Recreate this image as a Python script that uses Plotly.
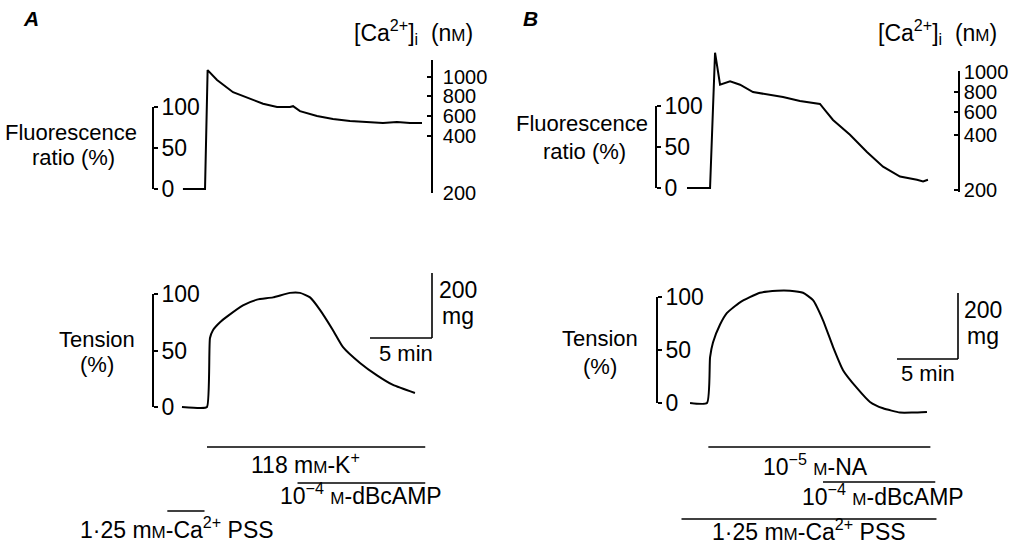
import plotly.graph_objects as go

W, H = 1022, 549
FONT = "Liberation Sans, Arial, sans-serif"

# ---------------- data ----------------
# Panel A (118 mM-K+): time (min), fluorescence ratio (%) and tension (%)
a_fluo_t = [-1.94, -0.16, 0.05, 0.81, 2.10, 3.31, 4.52, 5.65, 6.69, 6.94, 7.50, 8.87, 10.16, 11.53, 12.90, 14.19, 15.32, 16.37, 17.34]
a_fluo = [0, 0, 145, 133, 118, 111, 104, 100, 100, 101, 95, 89, 85.5, 83, 81.7, 80.5, 81.7, 80.5, 80.5]
a_ten_t = [-2.02, -0.56, 0.0, 0.24, 0.48, 1.05, 1.61, 2.90, 4.03, 5.32, 6.69, 7.50, 8.31, 9.11, 10.16, 10.97, 12.34, 13.71, 15.00, 16.77]
a_ten = [0, -0.9, 0, 61, 68, 75, 80, 90, 95, 97, 101, 101, 97, 86, 68, 53, 39, 28, 19.5, 12.4]

# Panel B (10^-5 M-NA)
b_fluo_t = [-2.05, -0.16, 0.25, 0.66, 1.48, 2.30, 3.36, 4.51, 5.82, 7.21, 8.28, 8.85, 9.26, 9.92, 11.31, 12.70, 14.02, 15.41, 16.80, 17.30, 17.70]
b_fluo = [0, 0, 165, 126, 130, 126, 117, 114, 111, 106, 104, 102.5, 95, 83, 65, 44, 26, 14, 10, 8, 10]
b_ten_t = [-1.80, -0.41, -0.16, 0.08, 0.66, 1.23, 2.30, 3.93, 5.33, 6.39, 7.46, 8.28, 9.10, 9.92, 10.74, 11.89, 12.95, 14.02, 15.41, 16.48, 17.62]
b_ten = [0, 0, 43, 57, 74, 85, 95, 104, 106, 106, 104, 97, 78, 53, 31, 14, 1, -5, -9, -9, -8.5]

# [Ca2+]i calibration: fluorescence-ratio (%) positions of the nM tick labels
ca_labels = ["200", "400", "600", "800", "1000"]
a_ca_ratio = [-4.5, 64.6, 89, 113.4, 137]
b_ca_ratio = [-2.4, 64.6, 92.7, 117, 141.5]

# Drug application periods (min)
a_periods = {"k": (0.0, 17.6), "dbc": (7.3, 17.6), "pss": (-3.2, -0.2)}
b_periods = {"na": (-0.3, 17.9), "dbc": (9.1, 18.3), "pss": (-2.5, 18.4)}

# Scale bars
scale_min = 5
scale_mg = 200
a_full_mg = 348   # mg corresponding to 100 % tension, panel A
b_full_mg = 321   # panel B

pct_ticks = [0, 50, 100]

# ---------------- helpers ----------------
def py(p):
    return 1 - p / H

def px(p):
    return p / W

def ydom(top, bot):
    return [py(bot), py(top)]

def vrange(top, bot, zero_px, hund_px):
    s = (zero_px - hund_px) / 100.0
    return [(zero_px - bot) / s, (zero_px - top) / s]

def val(p, zero_px, hund_px):
    s = (zero_px - hund_px) / 100.0
    return (zero_px - p) / s

# time calibration (pixel of t = 0, pixels per minute)
A_T0, A_PPM = 207, 12.4
B_T0, B_PPM = 712, 12.2

def tval_a(p):
    return (p - A_T0) / A_PPM

def tval_b(p):
    return (p - B_T0) / B_PPM

# vertical calibrations (pixel of 0 %, pixel of 100 %)
AF = (189, 107)
AT = (407, 294)
BF = (188, 106)
BT = (403, 297)

BLACK = "#000000"
tickfont = dict(family=FONT, size=23, color=BLACK)
cafont = dict(family=FONT, size=20, color=BLACK)

def hidden(**kw):
    d = dict(visible=False, showgrid=False, zeroline=False, fixedrange=True, automargin=False)
    d.update(kw)
    return d

def bracket(top, bot, xpos, **kw):
    d = dict(domain=ydom(top, bot), range=[0, 100], anchor="free", position=px(xpos),
             side="right", showline=True, linecolor=BLACK, linewidth=1.6,
             ticks="outside", ticklen=4, tickwidth=1.6, tickcolor=BLACK,
             tickmode="array", tickvals=pct_ticks, ticktext=[str(v) for v in pct_ticks],
             showgrid=False, zeroline=False, tickfont=tickfont, ticklabelstandoff=-1,
             automargin=False)
    d.update(kw)
    return d

def ca_axis(top, bot, xpos, cal, ratios, standoff):
    return dict(domain=ydom(top, bot), range=vrange(top, bot, *cal), anchor="free",
                position=px(xpos), side="right", showline=True, linecolor=BLACK,
                linewidth=1.6, ticks="inside", ticklen=4, tickwidth=1.6, tickcolor=BLACK,
                tickmode="array", tickvals=ratios, ticktext=ca_labels, showgrid=False,
                zeroline=False, tickfont=cafont, ticklabelstandoff=standoff, automargin=False)

fig = go.Figure()

line = dict(color=BLACK, width=2)
fig.add_trace(go.Scatter(x=a_fluo_t, y=a_fluo, xaxis="x", yaxis="y", mode="lines", line=line))
fig.add_trace(go.Scatter(x=a_ten_t, y=a_ten, xaxis="x", yaxis="y4", mode="lines",
                         line=dict(color=BLACK, width=2, shape="spline", smoothing=0.5)))
fig.add_trace(go.Scatter(x=b_fluo_t, y=b_fluo, xaxis="x2", yaxis="y6", mode="lines", line=line))
fig.add_trace(go.Scatter(x=b_ten_t, y=b_ten, xaxis="x2", yaxis="y9", mode="lines",
                         line=dict(color=BLACK, width=2, shape="spline", smoothing=0.5)))
# empty traces so that the bracket / calibration axes are drawn
for xa, ya in [("x", "y2"), ("x", "y3"), ("x", "y5"), ("x2", "y7"), ("x2", "y8"), ("x2", "y10")]:
    fig.add_trace(go.Scatter(x=[None], y=[None], xaxis=xa, yaxis=ya, mode="lines",
                             hoverinfo="skip", showlegend=False))

layout = dict(
    width=W, height=H, autosize=False,
    margin=dict(l=0, r=0, t=0, b=0, pad=0, autoexpand=False),
    paper_bgcolor="white", plot_bgcolor="rgba(0,0,0,0)",
    showlegend=False,
    font=dict(family=FONT, color=BLACK),
    xaxis=hidden(domain=[0, 0.5], range=[tval_a(0), tval_a(W / 2)], anchor="y"),
    xaxis2=hidden(domain=[0.5, 1], range=[tval_b(W / 2), tval_b(W)], anchor="y6"),
    yaxis=hidden(domain=ydom(40, 215), range=vrange(40, 215, *AF), anchor="x"),
    yaxis2=bracket(AF[1], AF[0], 153),
    yaxis3=ca_axis(60, 193, 432, AF, a_ca_ratio, 6),
    yaxis4=hidden(domain=ydom(255, 425), range=vrange(255, 425, *AT), anchor="x"),
    yaxis5=bracket(AT[1], AT[0], 153),
    yaxis6=hidden(domain=ydom(40, 215), range=vrange(40, 215, *BF), anchor="x2"),
    yaxis7=bracket(BF[1], BF[0], 656),
    yaxis8=ca_axis(71, 192, 959, BF, b_ca_ratio, 0),
    yaxis9=hidden(domain=ydom(255, 425), range=vrange(255, 425, *BT), anchor="x2"),
    yaxis10=bracket(BT[1], BT[0], 657),
)
fig.update_layout(**layout)

shapes = []
def hbar(xref, t0, t1, ypx):
    shapes.append(dict(type="line", xref=xref, yref="paper", x0=t0, x1=t1, y0=py(ypx), y1=py(ypx),
                       line=dict(color=BLACK, width=1.6)))

hbar("x", *a_periods["k"], 447)
hbar("x", *a_periods["dbc"], 483)
hbar("x", *a_periods["pss"], 511)
hbar("x2", *b_periods["na"], 447)
hbar("x2", *b_periods["dbc"], 482)
hbar("x2", *b_periods["pss"], 519)

# scale bars (5 min, 200 mg)
def scalebar(xref, yref, t_end, v_base, full_mg):
    shapes.append(dict(type="line", xref=xref, yref=yref, x0=t_end - scale_min, x1=t_end,
                       y0=v_base, y1=v_base, line=dict(color=BLACK, width=1.6)))
    shapes.append(dict(type="line", xref=xref, yref=yref, x0=t_end, x1=t_end,
                       y0=v_base, y1=v_base + scale_mg / full_mg * 100, line=dict(color=BLACK, width=1.6)))

scalebar("x", "y4", tval_a(432), val(338, *AT), a_full_mg)
scalebar("x2", "y9", tval_b(958), val(359, *BT), b_full_mg)
fig.update_layout(shapes=shapes)

SC = "<span style='font-size:17px'>M</span>"
ann = []
def text(s, xp, yp, size=21, xanchor="center"):
    ann.append(dict(text=s, x=px(xp), y=py(yp), xref="paper", yref="paper", showarrow=False,
                    xanchor=xanchor, yanchor="middle", font=dict(family=FONT, size=size, color=BLACK)))

text("<b><i>A</i></b>", 31, 19, 21)
text("<b><i>B</i></b>", 530, 18, 21)
hdr = "[Ca<sup>2+</sup>]<sub>i</sub>  (n<span style='font-size:17px'>M</span>)"
text(hdr, 413, 32, 23)
text(hdr, 937, 32, 23)
text("Fluorescence", 71, 132, 22)
text("ratio (%)", 73, 157, 22)
text("Fluorescence", 582, 124, 22)
text("ratio (%)", 584, 151, 22)
text("Tension", 97, 340, 22)
text("(%)", 97, 364, 22)
text("Tension", 600, 338, 22)
text("(%)", 600, 366, 22)
text("200", 458, 290, 23)
text("mg", 458, 316, 23)
text("5 min", 406, 353, 22)
text("200", 983, 310, 23)
text("mg", 983, 336, 23)
text("5 min", 928, 373, 22)
text("118 m" + SC + "-K<sup>+</sup>", 305, 463, 23)
text("10<sup>−4</sup> " + SC + "-dBcAMP", 278, 494, 23, "left")
text("1·25 m" + SC + "-Ca<sup>2+</sup> PSS", 78, 528, 23, "left")
text("10<sup>−5</sup> " + SC + "-NA", 815, 465, 23)
text("10<sup>−4</sup> " + SC + "-dBcAMP", 800, 495, 23, "left")
text("1·25 m" + SC + "-Ca<sup>2+</sup> PSS", 710, 530, 23, "left")
fig.update_layout(annotations=ann)

fig.write_html("out.html")
